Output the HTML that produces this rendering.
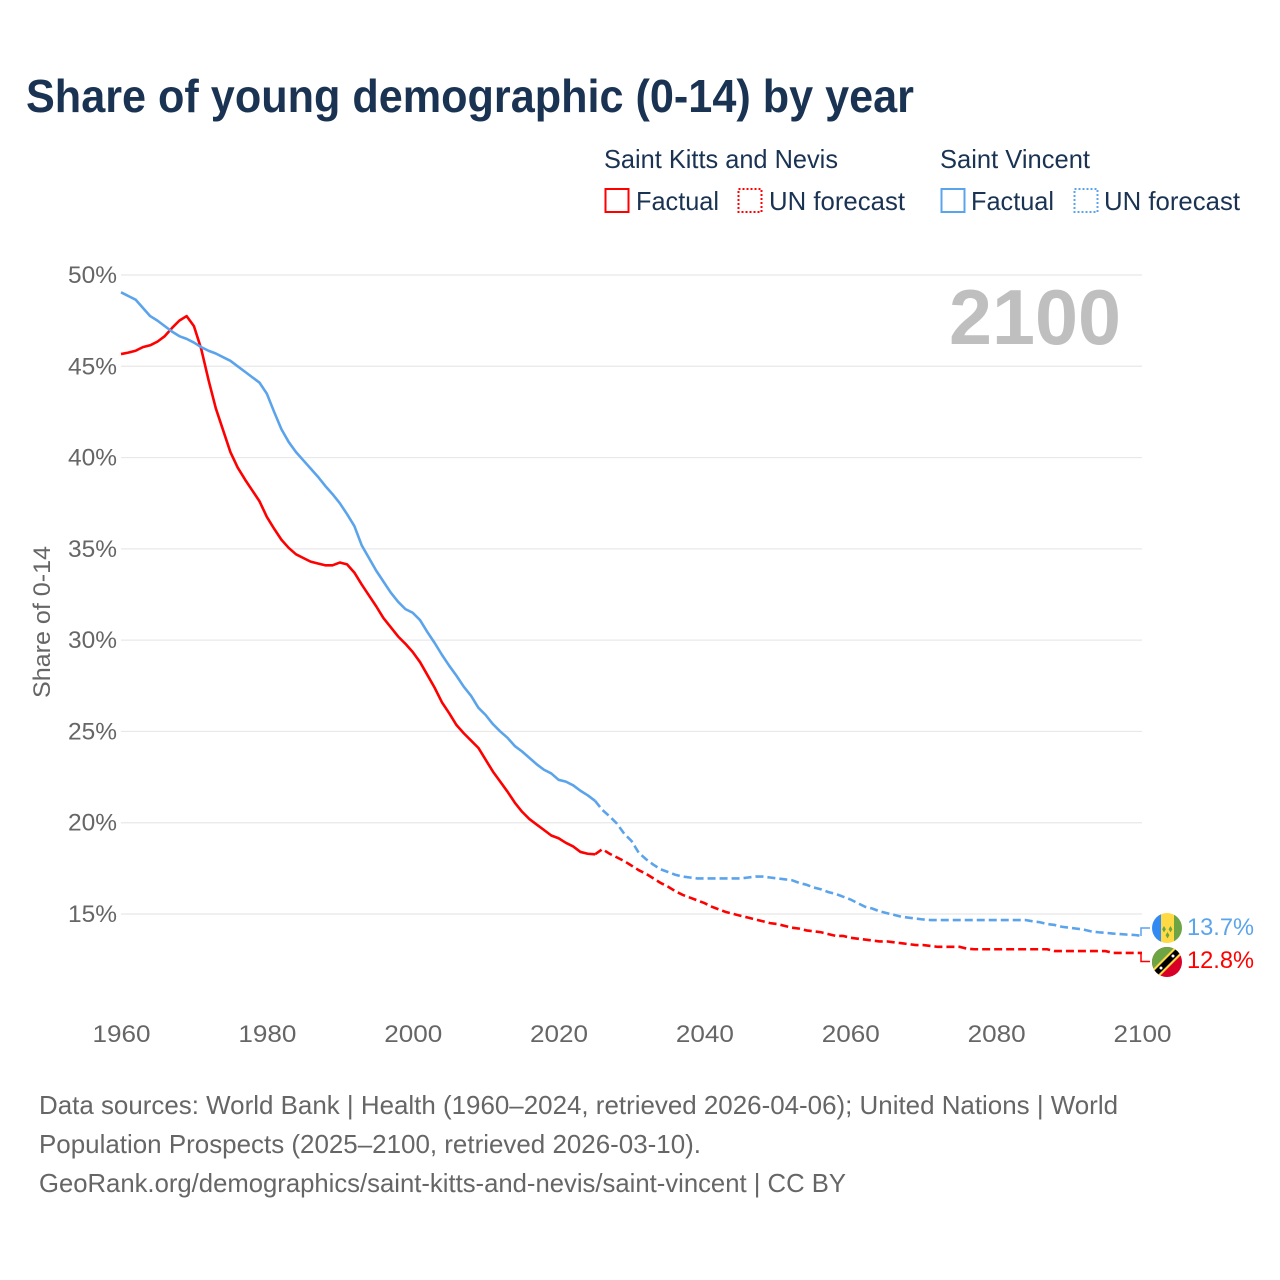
<!DOCTYPE html>
<html lang="en">
<head>
<meta charset="utf-8">
<title>Share of young demographic (0-14) by year</title>
<style>
html,body{margin:0;padding:0;background:#fff;}
svg{display:block;font-family:"Liberation Sans",sans-serif;}
</style>
</head>
<body>
<svg id="chart" xmlns="http://www.w3.org/2000/svg" width="1280" height="1280" viewBox="0 0 1280 1280">
  <defs>
    <clipPath id="flag-clip-vc"><circle cx="1167" cy="928" r="15"/></clipPath>
    <clipPath id="flag-clip-kn"><circle cx="1167" cy="962" r="15"/></clipPath>
  </defs>
  <text x="26" y="112" font-size="46" font-weight="700" fill="#1a3353" textLength="888" lengthAdjust="spacingAndGlyphs">Share of young demographic (0-14) by year</text>

  <g font-size="26" fill="#1a3353">
    <text x="604" y="168" textLength="234" lengthAdjust="spacingAndGlyphs">Saint Kitts and Nevis</text>
    <text x="940" y="168" textLength="150" lengthAdjust="spacingAndGlyphs">Saint Vincent</text>
    <rect x="605.5" y="189" width="23" height="23" fill="none" stroke="#ff0000" stroke-width="2"/>
    <text x="636" y="210" textLength="83" lengthAdjust="spacingAndGlyphs">Factual</text>
    <rect x="738.5" y="189" width="23" height="23" fill="none" stroke="#ff0000" stroke-width="2" stroke-dasharray="2 2"/>
    <text x="769" y="210" textLength="136" lengthAdjust="spacingAndGlyphs">UN forecast</text>
    <rect x="941.5" y="189" width="23" height="23" fill="none" stroke="#5ba4ec" stroke-width="2"/>
    <text x="971" y="210" textLength="83" lengthAdjust="spacingAndGlyphs">Factual</text>
    <rect x="1074.5" y="189" width="23" height="23" fill="none" stroke="#5ba4ec" stroke-width="2" stroke-dasharray="2 2"/>
    <text x="1104" y="210" textLength="136" lengthAdjust="spacingAndGlyphs">UN forecast</text>
  </g>

  <g id="grid"></g>
  <g id="yticks"></g>
  <g id="xticks"></g>
  <text transform="translate(50,622) rotate(-90)" text-anchor="middle" font-size="24" fill="#666666" textLength="152" lengthAdjust="spacingAndGlyphs">Share of 0-14</text>
  <text x="949" y="344" font-size="78" font-weight="700" fill="#bfbfbf" textLength="172" lengthAdjust="spacingAndGlyphs">2100</text>

  <g id="series"></g>

  <path d="M1141 936V928H1150" fill="none" stroke="#5ba4ec" stroke-width="1.5"/>
  <path d="M1141 953.5V961.5H1150" fill="none" stroke="#ff0000" stroke-width="1.5"/>

  <g clip-path="url(#flag-clip-vc)">
    <rect x="1152" y="913" width="9" height="30" fill="#338af3"/>
    <rect x="1161" y="913" width="13" height="30" fill="#ffda44"/>
    <rect x="1174" y="913" width="8" height="30" fill="#6da544"/>
    <path d="M1164 926l1.9 3.2-1.9 3.2-1.9-3.2zM1170.5 926l1.9 3.2-1.9 3.2-1.9-3.2zM1167.5 932l1.9 3.2-1.9 3.2-1.9-3.2z" fill="#6da544"/>
  </g>
  <g clip-path="url(#flag-clip-kn)">
    <rect x="1152" y="947" width="30" height="30" fill="#d80027"/>
    <path d="M1152 947H1182L1152 977Z" fill="#6da544"/>
    <path d="M1152 970L1175 947H1182V954L1159 977H1152Z" fill="#ffda44"/>
    <path d="M1154 971L1176 949L1180 953L1158 975Z" fill="#000000"/>
    <circle cx="1161" cy="968" r="1.5" fill="#ffffff"/>
    <circle cx="1173" cy="956" r="1.5" fill="#ffffff"/>
  </g>

  <text x="1187" y="935" font-size="24" fill="#5ba4ec" textLength="67" lengthAdjust="spacingAndGlyphs">13.7%</text>
  <text x="1187" y="968" font-size="24" fill="#ff0000" textLength="67" lengthAdjust="spacingAndGlyphs">12.8%</text>

  <g font-size="26" fill="#666666">
    <text x="39" y="1114" textLength="1079" lengthAdjust="spacingAndGlyphs">Data sources: World Bank | Health (1960–2024, retrieved 2026-04-06); United Nations | World</text>
    <text x="39" y="1153" textLength="662" lengthAdjust="spacingAndGlyphs">Population Prospects (2025–2100, retrieved 2026-03-10).</text>
    <text x="39" y="1192" textLength="807" lengthAdjust="spacingAndGlyphs">GeoRank.org/demographics/saint-kitts-and-nevis/saint-vincent | CC BY</text>
  </g>
</svg>
<script>
const yTickValues = [50, 45, 40, 35, 30, 25, 20, 15];
const xTickYears = [1960, 1980, 2000, 2020, 2040, 2060, 2080, 2100];
const factualStartYear = 1960;
const forecastStartYear = 2025;

const kittsFactual = [45.67,45.75,45.85,46.05,46.15,46.35,46.65,47.1,47.5,47.75,
  47.2,45.95,44.25,42.7,41.5,40.3,39.45,38.8,38.2,37.6,
  36.75,36.1,35.5,35.05,34.7,34.5,34.3,34.2,34.1,34.1,
  34.25,34.15,33.7,33.05,32.45,31.85,31.2,30.7,30.2,29.8,
  29.35,28.8,28.1,27.4,26.6,26.0,25.35,24.9,24.5,24.1,
  23.45,22.8,22.25,21.7,21.1,20.6,20.2,19.9,19.6,19.3,
  19.15,18.9,18.7,18.4,18.3,18.27];
const kittsForecast = [18.27,18.55,18.3,18.1,17.9,17.65,17.4,17.2,16.95,16.7,
  16.5,16.25,16.05,15.9,15.75,15.6,15.4,15.25,15.1,15.0,
  14.9,14.8,14.7,14.6,14.5,14.45,14.35,14.25,14.2,14.1,
  14.05,14.0,13.9,13.8,13.8,13.7,13.65,13.6,13.55,13.5,
  13.5,13.45,13.4,13.35,13.3,13.3,13.25,13.2,13.2,13.2,
  13.2,13.1,13.07,13.07,13.07,13.07,13.07,13.07,13.07,13.07,
  13.07,13.07,13.07,12.97,12.97,12.97,12.97,12.97,12.97,12.97,
  12.97,12.87,12.87,12.87,12.87,12.87];

const vincentFactual = [49.05,48.85,48.65,48.2,47.75,47.5,47.2,46.9,46.65,46.5,
  46.3,46.05,45.85,45.7,45.5,45.3,45.0,44.7,44.4,44.1,
  43.5,42.5,41.55,40.85,40.3,39.85,39.4,38.95,38.45,38.0,
  37.5,36.9,36.25,35.2,34.5,33.8,33.2,32.6,32.1,31.7,
  31.5,31.1,30.45,29.85,29.2,28.6,28.05,27.45,26.95,26.3,
  25.9,25.4,25.0,24.65,24.2,23.9,23.55,23.2,22.9,22.7,
  22.35,22.25,22.05,21.75,21.5,21.2];
const vincentForecast = [21.2,20.7,20.35,19.95,19.4,19.0,18.35,18.0,17.7,17.45,
  17.3,17.15,17.05,17.0,16.95,16.95,16.95,16.95,16.95,16.95,
  16.95,17.0,17.05,17.05,17.0,16.95,16.9,16.85,16.7,16.6,
  16.45,16.35,16.2,16.1,15.95,15.8,15.6,15.4,15.3,15.15,
  15.05,14.95,14.85,14.8,14.75,14.7,14.67,14.67,14.67,14.67,
  14.67,14.67,14.67,14.67,14.67,14.67,14.67,14.67,14.67,14.67,
  14.6,14.55,14.45,14.4,14.3,14.25,14.2,14.15,14.05,14.0,
  13.97,13.93,13.9,13.87,13.85,13.8];

const SVG_NS = 'http://www.w3.org/2000/svg';
const xScale = function (year) { return 121 + (year - 1960) * (1021 / 140); };
const yScale = function (pct) { return 275 + (50 - pct) * (639 / 35); };

const gridGroup = document.getElementById('grid');
const yTickGroup = document.getElementById('yticks');
const xTickGroup = document.getElementById('xticks');
const seriesGroup = document.getElementById('series');

yTickValues.forEach(function (value) {
  const line = document.createElementNS(SVG_NS, 'line');
  
  
  line.setAttribute('x1', xScale(1960));
  line.setAttribute('x2', xScale(2100));
  line.setAttribute('y1', yScale(value));
  line.setAttribute('y2', yScale(value));
  line.setAttribute('stroke', '#e8e8e8');
  line.setAttribute('stroke-width', '1.2');
  gridGroup.appendChild(line);

  const label = document.createElementNS(SVG_NS, 'text');
  
  
  label.setAttribute('x', 117);
  label.setAttribute('y', yScale(value) + 8);
  label.setAttribute('text-anchor', 'end');
  label.setAttribute('font-size', '24');
  label.setAttribute('fill', '#666666');
  label.setAttribute('textLength', '49');
  label.setAttribute('lengthAdjust', 'spacingAndGlyphs');
  label.textContent = value + '%';
  yTickGroup.appendChild(label);
});

xTickYears.forEach(function (year) {
  const label = document.createElementNS(SVG_NS, 'text');
  
  
  label.setAttribute('x', xScale(year) + 0.5);
  label.setAttribute('y', 1042);
  label.setAttribute('text-anchor', 'middle');
  label.setAttribute('font-size', '24');
  label.setAttribute('fill', '#666666');
  label.setAttribute('textLength', '58');
  label.setAttribute('lengthAdjust', 'spacingAndGlyphs');
  label.textContent = year;
  xTickGroup.appendChild(label);
});

function linePath(values, startYear) {
  return values.map(function (v, i) {
    return (i ? 'L' : 'M') + xScale(startYear + i).toFixed(2) + ' ' + yScale(v).toFixed(2);
  }).join('');
}

const kittsForecastLine = document.createElementNS(SVG_NS, 'path');


kittsForecastLine.setAttribute('d', linePath(kittsForecast, forecastStartYear));
kittsForecastLine.setAttribute('fill', 'none');
kittsForecastLine.setAttribute('stroke', '#ff0000');
kittsForecastLine.setAttribute('stroke-width', '2.6');
kittsForecastLine.setAttribute('stroke-dasharray', '8 4');
seriesGroup.appendChild(kittsForecastLine);

const vincentForecastLine = document.createElementNS(SVG_NS, 'path');


vincentForecastLine.setAttribute('d', linePath(vincentForecast, forecastStartYear));
vincentForecastLine.setAttribute('fill', 'none');
vincentForecastLine.setAttribute('stroke', '#5ba4ec');
vincentForecastLine.setAttribute('stroke-width', '2.6');
vincentForecastLine.setAttribute('stroke-dasharray', '8 4');
seriesGroup.appendChild(vincentForecastLine);

const kittsFactualLine = document.createElementNS(SVG_NS, 'path');


kittsFactualLine.setAttribute('d', linePath(kittsFactual, factualStartYear));
kittsFactualLine.setAttribute('fill', 'none');
kittsFactualLine.setAttribute('stroke', '#ff0000');
kittsFactualLine.setAttribute('stroke-width', '2.6');
kittsFactualLine.setAttribute('stroke-linejoin', 'round');
seriesGroup.appendChild(kittsFactualLine);

const vincentFactualLine = document.createElementNS(SVG_NS, 'path');


vincentFactualLine.setAttribute('d', linePath(vincentFactual, factualStartYear));
vincentFactualLine.setAttribute('fill', 'none');
vincentFactualLine.setAttribute('stroke', '#5ba4ec');
vincentFactualLine.setAttribute('stroke-width', '2.6');
vincentFactualLine.setAttribute('stroke-linejoin', 'round');
seriesGroup.appendChild(vincentFactualLine);
</script>
</body>
</html>
